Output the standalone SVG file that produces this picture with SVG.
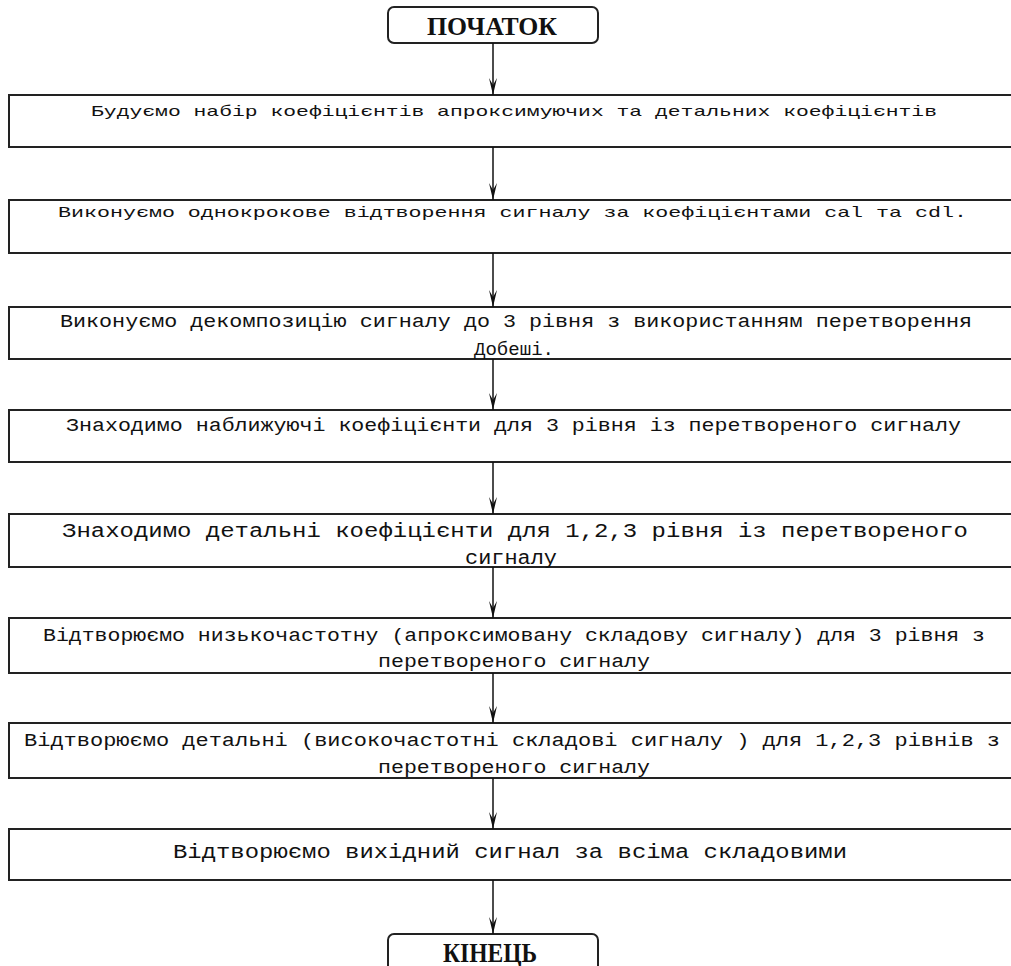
<svg xmlns="http://www.w3.org/2000/svg" width="1011" height="966" viewBox="0 0 1011 966">
<defs>
<style>
.box{fill:#fff;stroke:#222;stroke-width:2}
.term{fill:#fff;stroke:#222;stroke-width:2}
.t{font-family:"Liberation Mono","DejaVu Sans Mono",monospace;fill:#111}
.s{font-size:15px}
.m{font-size:18px}
.l{font-size:20px}
.tt{font-family:"Liberation Serif","Times New Roman",serif;font-weight:bold;fill:#111}
.c line{stroke:#111;stroke-width:1.5}
</style>
<marker id="ah" markerUnits="userSpaceOnUse" markerWidth="20" markerHeight="12" viewBox="-18 -6 20 12" refX="0" refY="0" orient="auto">
<path d="M-17,-4 L0,0 L-17,4 L-10,0 Z" fill="#111"/>
</marker>
</defs>
<rect width="1011" height="966" fill="#fff"/>
<g id="start">
<rect class="term" x="388" y="7" width="210" height="36" rx="6"/>
<text class="tt" x="427" y="35" font-size="26" textLength="130" lengthAdjust="spacingAndGlyphs">ПОЧАТОК</text>
</g>
<g id="n1">
<rect class="box" x="9" y="95" width="1010" height="52"/>
<text class="t s" x="91" y="116" textLength="846" lengthAdjust="spacingAndGlyphs">Будуємо набір коефіцієнтів апроксимуючих та детальних коефіцієнтів</text>
</g>
<g id="n2">
<rect class="box" x="9" y="200" width="1010" height="53"/>
<text class="t s" x="58" y="217" textLength="909" lengthAdjust="spacingAndGlyphs">Виконуємо однокрокове відтворення сигналу за коефіцієнтами cal та  cdl.</text>
</g>
<g id="n3">
<rect class="box" x="9" y="307" width="1010" height="52"/>
<text class="t m" x="60" y="327" textLength="912" lengthAdjust="spacingAndGlyphs">Виконуємо декомпозицію сигналу до 3 рівня  з використанням перетворення</text>
<text class="t m" x="474" y="355" textLength="80" lengthAdjust="spacingAndGlyphs">Добеші.</text>
</g>
<g id="n4">
<rect class="box" x="9" y="410" width="1010" height="52"/>
<text class="t m" x="66" y="431" textLength="895" lengthAdjust="spacingAndGlyphs">Знаходимо наближуючі коефіцієнти для 3 рівня із перетвореного сигналу</text>
</g>
<g id="n5">
<rect class="box" x="9" y="514" width="1010" height="53"/>
<text class="t l" x="62" y="537" textLength="906" lengthAdjust="spacingAndGlyphs">Знаходимо детальні коефіцієнти для 1,2,3 рівня із перетвореного</text>
<text class="t l" x="465" y="564" textLength="92" lengthAdjust="spacingAndGlyphs">сигналу</text>
</g>
<g id="n6">
<rect class="box" x="9" y="618" width="1010" height="55"/>
<text class="t m" x="43" y="641" textLength="942" lengthAdjust="spacingAndGlyphs">Відтворюємо низькочастотну (апроксимовану складову сигналу) для 3 рівня з</text>
<text class="t m" x="378" y="667" textLength="272" lengthAdjust="spacingAndGlyphs">перетвореного сигналу</text>
</g>
<g id="n7">
<rect class="box" x="9" y="723" width="1010" height="55"/>
<text class="t m" x="24" y="746" textLength="976" lengthAdjust="spacingAndGlyphs">Відтворюємо детальні (високочастотні складові сигналу ) для  1,2,3 рівнів з</text>
<text class="t m" x="378" y="773" textLength="272" lengthAdjust="spacingAndGlyphs">перетвореного сигналу</text>
</g>
<g id="n8">
<rect class="box" x="9" y="829" width="1010" height="51"/>
<text class="t l" x="173" y="858" textLength="674" lengthAdjust="spacingAndGlyphs">Відтворюємо вихідний сигнал за всіма складовими</text>
</g>
<g id="end">
<rect class="term" x="388" y="934" width="210" height="50" rx="6"/>
<text class="tt" x="443" y="962" font-size="27" textLength="94" lengthAdjust="spacingAndGlyphs">КІНЕЦЬ</text>
</g>
<g id="connectors" class="c">
<line x1="493" y1="43" x2="493" y2="95" marker-end="url(#ah)"/>
<line x1="493" y1="147" x2="493" y2="200" marker-end="url(#ah)"/>
<line x1="493" y1="253" x2="493" y2="307" marker-end="url(#ah)"/>
<line x1="493" y1="359" x2="493" y2="410" marker-end="url(#ah)"/>
<line x1="493" y1="462" x2="493" y2="514" marker-end="url(#ah)"/>
<line x1="493" y1="567" x2="493" y2="618" marker-end="url(#ah)"/>
<line x1="493" y1="673" x2="493" y2="723" marker-end="url(#ah)"/>
<line x1="493" y1="778" x2="493" y2="829" marker-end="url(#ah)"/>
<line x1="493" y1="880" x2="493" y2="934" marker-end="url(#ah)"/>
</g>
</svg>
